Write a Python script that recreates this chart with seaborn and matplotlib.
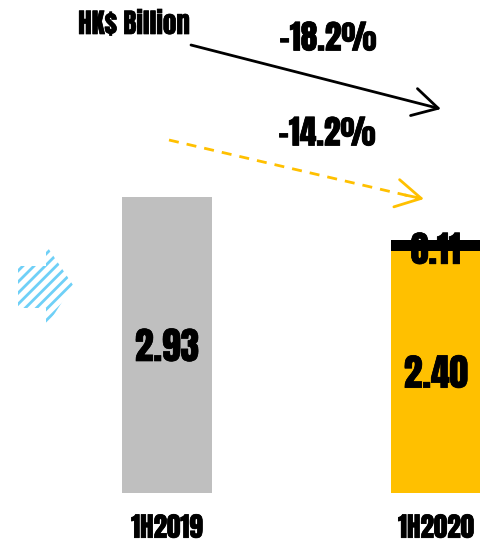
import matplotlib
matplotlib.use('Agg')
import matplotlib.pyplot as plt
import matplotlib.patheffects as pe
from matplotlib.patches import Polygon
import seaborn as sns
import pandas as pd

# datos
periodos = ['1H2019', '1H2020']
base = [2.93, 2.40]
extra = [0.0, 0.11]
colores = ['#BFBFBF', '#FFC000']
etiquetas_base = ['2.93', '2.40']
etiqueta_extra = '0.11'
cambio_total = '-18.2%'
cambio_base = '-14.2%'
unidad = 'HK$ Billion'

sns.set_theme(style='white')
plt.rcParams['font.family'] = ['Anton', 'Liberation Sans', 'DejaVu Sans']
plt.rcParams['hatch.linewidth'] = 2.0

W, H = 481, 542
fig = plt.figure(figsize=(W / 100, H / 100), dpi=100)
ax = fig.add_axes([0, 49.5 / H, 1, 492.5 / H])
grueso = [pe.withStroke(linewidth=0.5, foreground='black')]


def px(x, y):
    return (x / W, 1 - y / H)


df = pd.DataFrame({'periodo': periodos, 'valor': base, 'extra': extra})
df['total'] = df['valor'] + df['extra']
# primero el total en negro, encima la parte de color
sns.barplot(data=df, x='periodo', y='total', color='black', width=0.336, saturation=1,
            linewidth=0, edgecolor='none', ax=ax)
sns.barplot(data=df, x='periodo', y='valor', hue='periodo', palette=colores, width=0.336,
            saturation=1, legend=False, linewidth=0, edgecolor='none', ax=ax)

ax.set_xlim(-167 / 269, (W - 167) / 269)
ax.set_ylim(0, 492.5 / 100.7)
ax.set_xlabel('')
ax.set_ylabel('')
ax.set_yticks([])
ax.tick_params(axis='x', length=0, pad=16, labelsize=19.5, labelcolor='black')
for t in ax.get_xticklabels():
    t.set_path_effects(grueso)
sns.despine(ax=ax, left=True, bottom=True)

# valores dentro de las barras
for i, txt in enumerate(etiquetas_base):
    ax.text(i, base[i] / 2 - 0.02, txt, ha='center', va='center', fontsize=27, color='black',
            path_effects=grueso)
ax.text(1, base[1] + extra[1] / 2 - 0.05, etiqueta_extra, ha='center', va='center', fontsize=26,
        color='black', path_effects=grueso)

# textos de arriba
fig.text(*px(134, 24), unidad, ha='center', va='center', fontsize=19.5, color='black',
         path_effects=grueso)
fig.text(*px(328, 38), cambio_total, ha='center', va='center', fontsize=24, color='black',
         path_effects=grueso)
fig.text(*px(327, 133), cambio_base, ha='center', va='center', fontsize=24, color='black',
         path_effects=grueso)

# flechas
ax.annotate('', xy=px(441, 109), xytext=px(191, 45), xycoords='figure fraction',
            textcoords='figure fraction',
            arrowprops=dict(arrowstyle='->,head_length=0.9,head_width=0.5', color='black', lw=2,
                            mutation_scale=20, shrinkA=0, shrinkB=0))
ini, fin = px(169, 140), px(418, 198)
ax.plot([ini[0], fin[0]], [ini[1], fin[1]], transform=fig.transFigure, color='#FFC000', lw=2,
        dashes=(3.6, 2.9), clip_on=False)
ax.annotate('', xy=px(424, 199), xytext=px(405, 195), xycoords='figure fraction',
            textcoords='figure fraction',
            arrowprops=dict(arrowstyle='->,head_length=0.9,head_width=0.5', color='#FFC000', lw=2,
                            mutation_scale=20, shrinkA=0, shrinkB=0))

# flecha rayada de la izquierda
puntos = [px(18, 266), px(46, 266), px(46, 245), px(73, 285), px(46, 327), px(46, 308), px(18, 308)]
fig.add_artist(Polygon(puntos, closed=True, transform=fig.transFigure, facecolor='white',
                       edgecolor='#6FD0F7', hatch='///', lw=0))

fig.savefig('out.png', dpi=100)
